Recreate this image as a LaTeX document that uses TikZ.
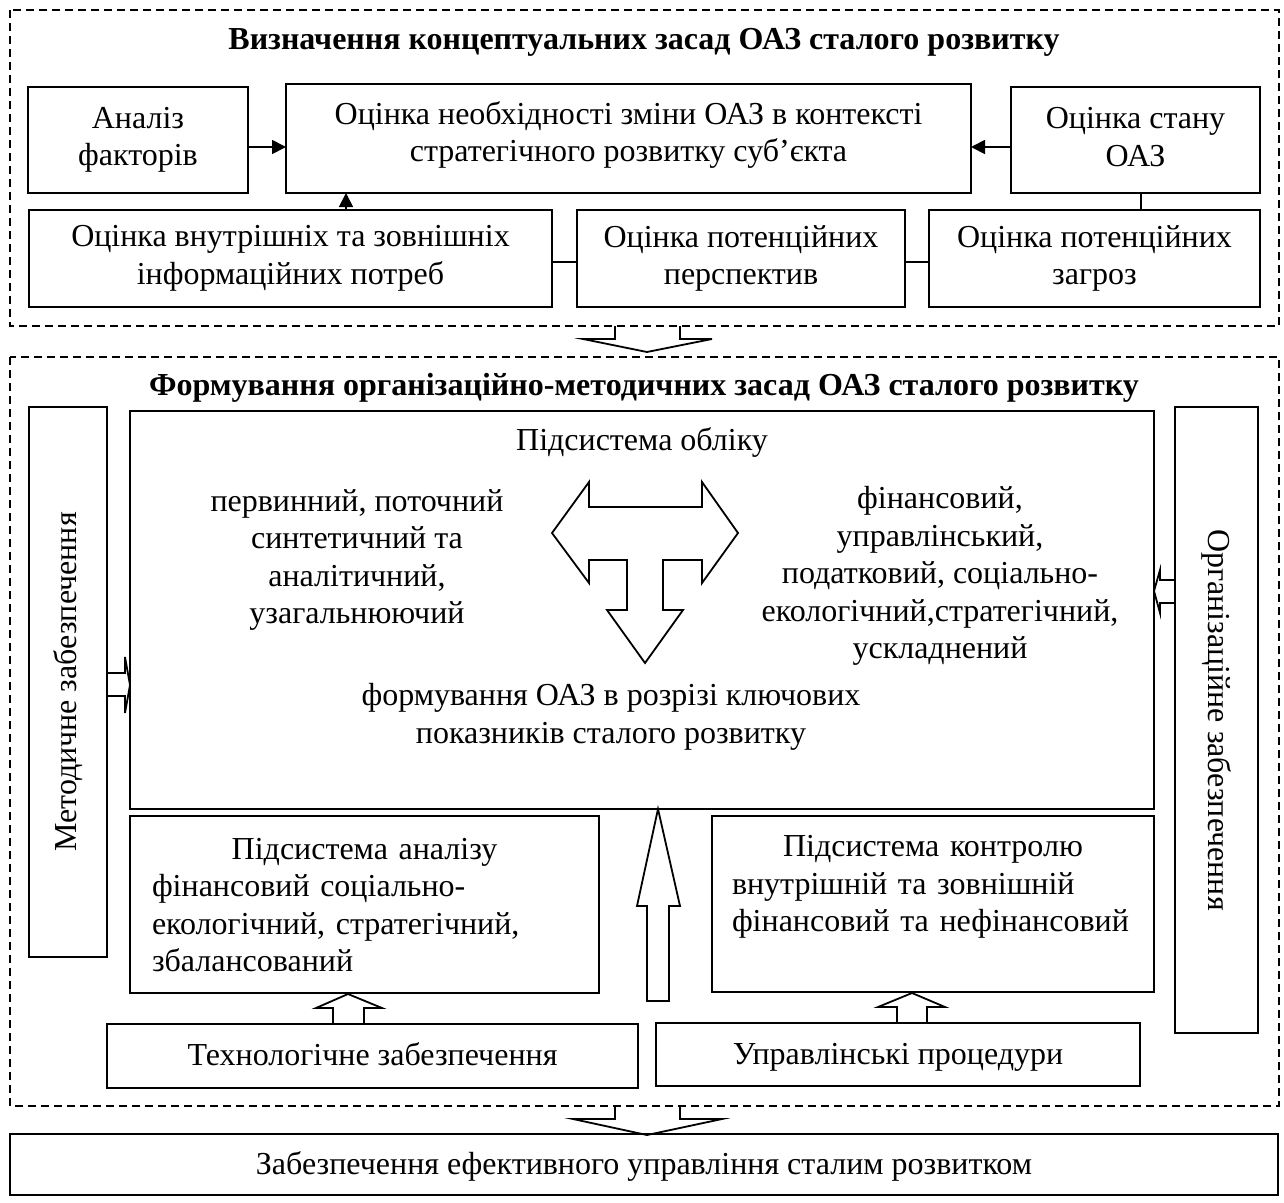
\documentclass[tikz,border=0pt]{standalone}
\usepackage{fontspec}
\setmainfont{Liberation Serif}
\usetikzlibrary{arrows.meta}
\newcommand{\dtxt}{\fontsize{32}{37.5}\selectfont}
\begin{document}
\begin{tikzpicture}[x=1pt,y=-1pt,
  box/.style={draw, line width=1.8pt, inner sep=0pt, outer sep=0pt, anchor=north west, align=center, font=\dtxt},
  onebox/.style={box, text height=22pt, text depth=3pt},
  dbox/.style={draw, dash pattern=on 8pt off 5pt, line width=1.4pt},
  conn/.style={line width=1.8pt},
  arr/.style={line width=1.8pt, -{Triangle[length=14pt,width=14pt]}},
  blk/.style={draw, line width=1.8pt, fill=white, line join=miter},
  lbl/.style={font=\dtxt, align=center, inner sep=0pt},
  ttl/.style={font=\dtxt\bfseries, inner sep=0pt},
]
\useasboundingbox (0,0) rectangle (1284,1202);

% ---------- top dashed block ----------
\draw[dbox] (10,10) rectangle (1279,326);
\node[ttl] (T1) at (644,42) {Визначення концептуальних засад ОАЗ сталого розвитку};

\node[box, minimum width=220pt, minimum height=106pt] (A) at (28,87) {Аналіз\\факторів};
\node[box, minimum width=685pt, minimum height=109pt] (N) at (286,84) {};
\node[lbl] (Nt) at (628.5,135) {Оцінка необхідності зміни ОАЗ в контексті\\стратегічного розвитку суб’єкта};
\node[box, minimum width=249pt, minimum height=106pt] (S) at (1011,87) {};
\node[lbl] (St) at (1135.5,137) {Оцінка стану\\ОАЗ};

\node[box, minimum width=523pt, minimum height=97pt] (I) at (29,210) {Оцінка внутрішніх та зовнішніх\\інформаційних потреб};
\node[box, minimum width=328pt, minimum height=97pt] (P) at (577,210) {Оцінка потенційних\\перспектив};
\node[box, minimum width=331pt, minimum height=97pt] (Z) at (929,210) {Оцінка потенційних\\загроз};

\coordinate (yA) at (0,147);
\draw[arr] (A.east |- yA) -- (N.west |- yA);
\draw[arr] (S.west |- yA) -- (N.east |- yA);
\coordinate (xI) at (346,0);
\draw[arr] (I.north -| xI) -- (N.south -| xI);
\coordinate (yI) at (0,262);
\draw[conn] (I.east |- yI) -- (P.west |- yI);
\draw[conn] (P.east |- yI) -- (Z.west |- yI);
\coordinate (xS) at (1141,0);
\draw[conn] (S.south -| xS) -- (Z.north -| xS);

% block arrow between the two dashed blocks
\draw[blk, fill=none] (615,326) -- (615,339) -- (583,339) -- (647,352) -- (712,339) -- (680,339) -- (680,326);

% ---------- middle dashed block ----------
\draw[dbox] (10,357) rectangle (1279,1106);
\node[ttl] (T2) at (644,388) {Формування організаційно-методичних засад ОАЗ сталого розвитку};

\node[box, minimum width=78pt, minimum height=550pt] (M) at (29,407) {};
\node[lbl, rotate=90] (Mt) at (M.center) {Методичне забезпечення};
\node[box, minimum width=83pt, minimum height=626pt] (O) at (1175,407) {};
\node[lbl, rotate=-90] (Ot) at (O.center) {Організаційне забезпечення};

\node[box, minimum width=1024pt, minimum height=398pt] (B) at (130,411) {};
\node[lbl] (Bt) at (642,442) {Підсистема обліку};
\node[lbl] (Bl) at (357,560) {первинний, поточний\\синтетичний та\\аналітичний,\\узагальнюючий};
\node[lbl] (Br) at (940,576) {фінансовий,\\управлінський,\\податковий, соціально-\\екологічний,стратегічний,\\ускладнений};
\node[lbl] (Bb) at (611,717) {формування ОАЗ в розрізі ключових\\показників сталого розвитку};

% T-shaped block arrow
\draw[blk] (552,533) -- (589,482) -- (589,507) -- (702,507) -- (702,482) -- (738,533)
  -- (702,583) -- (702,560) -- (663,560) -- (663,610) -- (683,610) -- (645,663)
  -- (607,610) -- (627,610) -- (627,560) -- (589,560) -- (589,583) -- cycle;

% side block arrows
\draw[blk, fill=none] (107,673) -- (125,673) -- (125,657) -- (130,685) -- (125,713) -- (125,696) -- (107,696);
\draw[blk, fill=none] (1175,580) -- (1160,580) -- (1160,570) -- (1154,591) -- (1160,613) -- (1160,603) -- (1175,603);

% analysis & control
\node[box, minimum width=469pt, minimum height=177pt] (AN) at (130,816) {};
\node[lbl, align=left, text width=425pt] (ANt) at (364.5,905) {\makebox[425pt]{Підсистема аналізу}\\фінансовий соціально-\\екологічний, стратегічний,\\збалансований};
\node[box, minimum width=442pt, minimum height=176pt] (C) at (712,816) {};
\node[lbl, align=left, text width=402pt] (Ct) at (933,887) {\makebox[402pt]{Підсистема контролю}\\внутрішній та зовнішній\\фінансовий та нефінансовий};

% big up arrow
\draw[blk] (658,809) -- (680,906) -- (669,906) -- (669,1001) -- (647,1001) -- (647,906) -- (637,906) -- cycle;

% bottom boxes in block
\node[onebox, minimum width=531pt, minimum height=64pt] (TE) at (107,1024) {Технологічне забезпечення};
\node[onebox, minimum width=484pt, minimum height=63pt] (MG) at (656,1023) {Управлінські процедури};

\draw[blk, fill=none] (333,1024) -- (333,1008) -- (316,1008) -- (348,994) -- (382,1008) -- (364,1008) -- (364,1024);
\draw[blk, fill=none] (897,1023) -- (897,1007) -- (878,1007) -- (912,993) -- (945,1007) -- (927,1007) -- (927,1023);

% bottom arrow
\draw[blk, fill=none] (615,1106) -- (615,1119) -- (573,1119) -- (647,1135) -- (722,1119) -- (680,1119) -- (680,1106);

% bottom box
\node[onebox, minimum width=1268pt, minimum height=61pt] (BB) at (10,1134) {Забезпечення ефективного управління сталим розвитком};
\end{tikzpicture}
\end{document}
